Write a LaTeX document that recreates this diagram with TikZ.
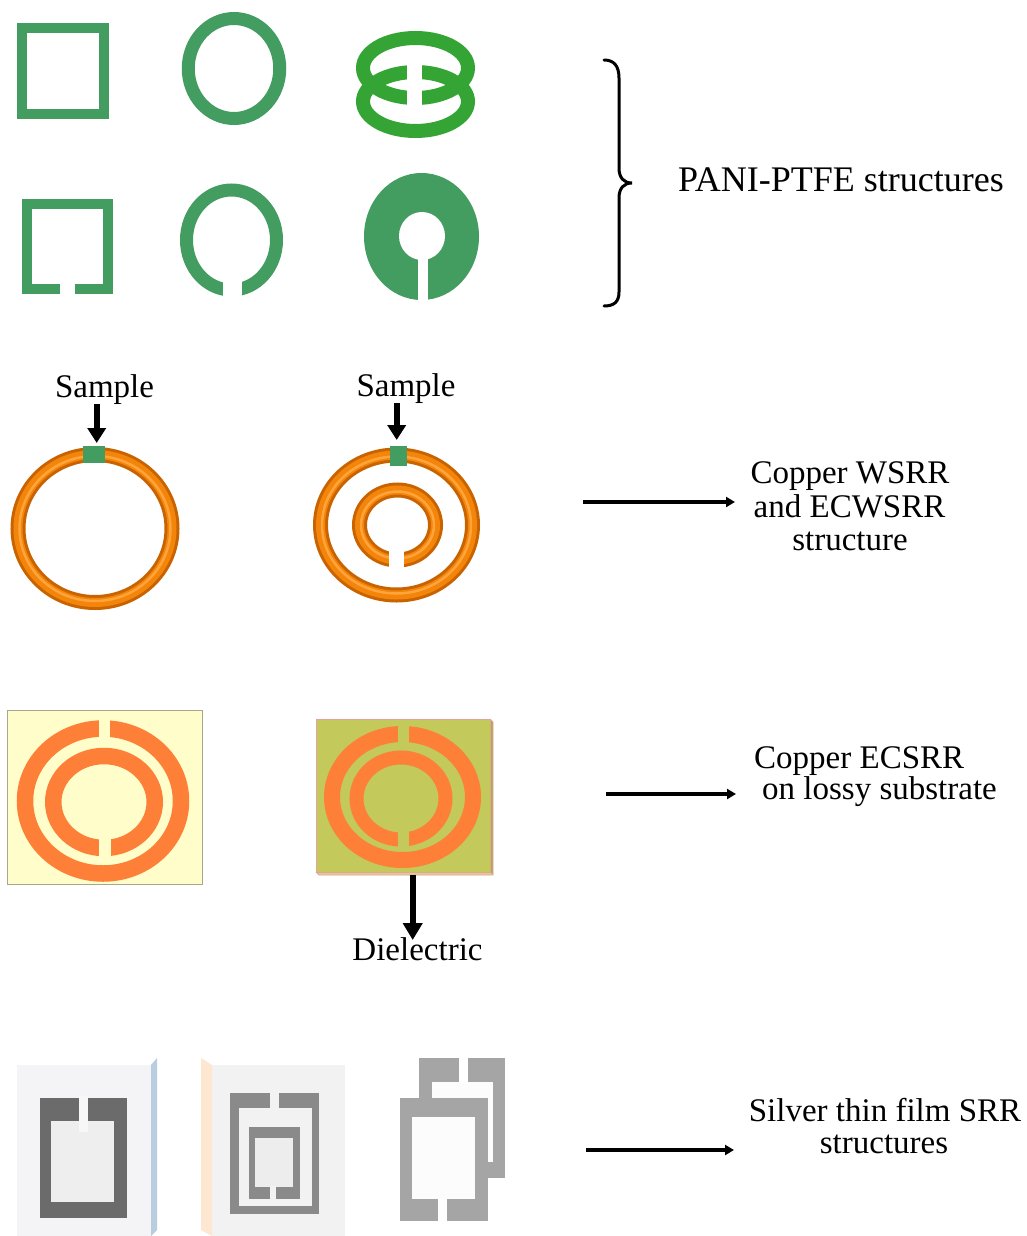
\documentclass[tikz,border=0pt]{standalone}
\usepackage{fontspec}
\setmainfont{Liberation Serif}
\usetikzlibrary{arrows.meta}

\definecolor{pgreen}{HTML}{439C60}
\definecolor{bgreen}{HTML}{34A535}
\definecolor{tubeDark}{HTML}{C96300}
\definecolor{tubeMid}{HTML}{F2850A}
\definecolor{tubeLight}{HTML}{FFA43A}
\definecolor{cuorange}{HTML}{FE7F38}
\definecolor{paleyellow}{HTML}{FFFDC9}
\definecolor{paleborder}{HTML}{A9A78A}
\definecolor{olive}{HTML}{C3C95A}
\definecolor{oliveside}{HTML}{A9AE4A}
\definecolor{olivebottom}{HTML}{DCCF86}
\definecolor{pinkedge}{HTML}{E6A0A0}
\definecolor{panelA}{HTML}{F4F3F5}
\definecolor{panelB}{HTML}{F2F2F2}
\definecolor{stripblue}{HTML}{B9CDE0}
\definecolor{striporange}{HTML}{FDE7D1}
\definecolor{agdark}{HTML}{6B6B6B}
\definecolor{agmid}{HTML}{8A8A8A}
\definecolor{aglight}{HTML}{A5A5A5}

% copper tube ring: centre, x radius, y radius
\newcommand\cuRing[3]{%
  \draw[line width=15pt, tubeDark] #1 ellipse (#2 and #3);
  \draw[line width=9pt, tubeMid] #1 ellipse (#2 and #3);
  \draw[line width=2.5pt, tubeLight] #1 ellipse ({#2-1.5} and {#3-1.5});
}

\begin{document}
\begin{tikzpicture}[x=1pt, y=-1pt,
  lbl/.style={font=\rmfamily\fontsize{33}{36}\selectfont, inner sep=0pt, anchor=base},
  biglbl/.style={font=\rmfamily\fontsize{36}{39}\selectfont, inner sep=0pt, anchor=base},
  downarrow/.style={line width=6pt, -{Triangle[width=18pt,length=15pt]}},
  rarrow/.style={line width=3.5pt, -{Triangle[width=10pt,length=9pt]}},
  samplebox/.style={fill=pgreen, draw=none, inner sep=0pt}
]
\useasboundingbox (0,0) rectangle (1027,1236);
\fill[white] (0,0) rectangle (1027,1236);

% ---------------- PANI-PTFE structures ----------------
% closed square
\draw[pgreen, line width=10pt] (21.5,28.5) rectangle (103.5,114);
% closed ring
\draw[pgreen, line width=13pt] (234,68.5) ellipse (45.75 and 50);
% double ring
\draw[bgreen, line width=14pt] (415.5,68) ellipse (52.5 and 30);
\draw[bgreen, line width=14pt] (415.5,101.5) ellipse (52.5 and 29.5);
\fill[white] (407,61) rectangle (422,108);
% split square
\draw[pgreen, line width=10pt] (60,288.5) -- (26.5,288.5) -- (26.5,203.5)
  -- (107.5,203.5) -- (107.5,288.5) -- (75,288.5);
% split ring
\draw[pgreen, line width=13pt] (231.5,240) ellipse (45 and 50);
\fill[white] (223,275) rectangle (242,300);
% keyhole disc
\fill[pgreen] (421.5,236.5) ellipse (57.5 and 63.5);
\fill[white] (422,236) ellipse (23 and 24);
\fill[white] (418,250) rectangle (428,302);

% brace and label
\draw[line width=3pt, line cap=round]
  (604,60) .. controls (614,60) and (619,66) .. (619,78) -- (619,168)
  .. controls (619,178) and (624,183) .. (632,183)
  .. controls (624,183) and (619,188) .. (619,198) -- (619,292)
  .. controls (619,302) and (614,306) .. (604,306);
\node[biglbl] (pani) at (841,191.5) {PANI-PTFE structures};

% ---------------- Copper WSRR and ECWSRR ----------------
\cuRing{(95,528.5)}{77}{74}
\cuRing{(396.5,525)}{76}{70}
\cuRing{(397.5,525)}{38}{35}
\fill[white] (388.5,550) rectangle (404,575);

\node[samplebox, minimum width=22pt, minimum height=17pt] (sq1) at (94,454.5) {};
\node[samplebox, minimum width=17pt, minimum height=20pt] (sq2) at (398.5,456) {};

\node[lbl] (s1) at (104.5,397) {Sample};
\node[lbl] (s2) at (406,396) {Sample};
\coordinate (s1tip) at (96.7,443);
\coordinate (s2tip) at (396.7,440);
\draw[downarrow] (s1.south -| s1tip) -- (s1tip);
\draw[downarrow] (s2.south -| s2tip) -- (s2tip);

\coordinate (a1s) at (583,502);
\coordinate (a1e) at (735,502);
\draw[rarrow] (a1s) -- (a1e);
\node[lbl] (cu1a) at (850,483) {Copper WSRR};
\node[lbl] (cu1b) at (849.5,517) {and ECWSRR};
\node[lbl] (cu1c) at (850,550.5) {structure};

% ---------------- Copper ECSRR on lossy substrate ----------------
% flat substrate
\filldraw[fill=paleyellow, draw=paleborder, line width=1pt] (7,710) rectangle (202,884);
\draw[cuorange, line width=16.5pt] (103,801) ellipse (78 and 72.5);
\draw[cuorange, line width=16.5pt] (104,802) ellipse (50.75 and 46);
\fill[paleyellow] (99,715) rectangle (110,743);
\fill[paleyellow] (99,833) rectangle (111,861);

% substrate with thickness
\fill[oliveside] (490,719) -- (493,722) -- (493,875) -- (490,872) -- cycle;
\fill[olivebottom] (316,872) -- (490,872) -- (493,875) -- (319,875) -- cycle;
\filldraw[fill=olive, draw=pinkedge, line width=0.8pt] (316,719) rectangle (490,872);
\draw[pinkedge, line width=0.8pt] (490,719) -- (493,722) -- (493,875) -- (319,875) -- (316,872);
\draw[cuorange, line width=16pt] (402.5,797) ellipse (70.5 and 63);
\draw[cuorange, line width=14pt] (401,798.5) ellipse (44.5 and 41);
\fill[olive] (398,721) rectangle (409,747);
\fill[olive] (398,828) rectangle (409,851);

\coordinate (subB) at (412.7,875);
\coordinate (dtip) at (412.7,940);
\draw[line width=6pt, -{Triangle[width=19pt,length=17pt]}] (subB) -- (dtip);
\node[lbl] (diel) at (417.5,960) {Dielectric};

\coordinate (a2s) at (606,794);
\coordinate (a2e) at (736,794);
\draw[rarrow] (a2s) -- (a2e);
\node[lbl, anchor=base west] (cu2a) at (754,768) {Copper ECSRR};
\node[lbl, anchor=base west] (cu2b) at (762,799) {on lossy substrate};

% ---------------- Silver thin film SRR ----------------
% panel one
\fill[panelA] (17,1065) rectangle (152,1236);
\fill[stripblue] (151,1065) -- (157,1058) -- (157,1230) -- (151,1236) -- cycle;
\fill[agdark] (40,1098) rectangle (127,1218);
\fill[gray!13] (51,1121) rectangle (114,1202);
\fill[white!97!black] (79,1096) rectangle (88,1132);

% panel two
\fill[panelB] (212,1065) rectangle (345,1236);
\fill[striporange] (201,1058) -- (212,1065) -- (212,1236) -- (201,1230) -- cycle;
\fill[agmid] (230,1093) rectangle (319,1214);
\fill[panelB] (239,1108) rectangle (312,1206);
\fill[panelB] (270,1091) rectangle (279,1108);
\fill[agmid] (249,1127) rectangle (300,1199);
\fill[gray!14] (255,1138) rectangle (293,1187);
\fill[panelB] (270,1186) rectangle (276,1201);

% panel three
\fill[aglight] (419,1058) rectangle (505,1178);
\fill[white!99!black] (432,1082) rectangle (493,1162);
\fill[white] (459,1056) rectangle (468,1083);
\fill[aglight] (400,1098) rectangle (488,1221);
\fill[white!99!black] (412,1117) rectangle (475,1199);
\fill[white] (438,1198) rectangle (447,1236);

\coordinate (a3s) at (586,1150);
\coordinate (a3e) at (734,1150);
\draw[rarrow] (a3s) -- (a3e);
\node[lbl] (ag1) at (885,1121) {Silver thin film SRR};
\node[lbl] (ag2) at (884,1153) {structures};
\end{tikzpicture}
\end{document}
